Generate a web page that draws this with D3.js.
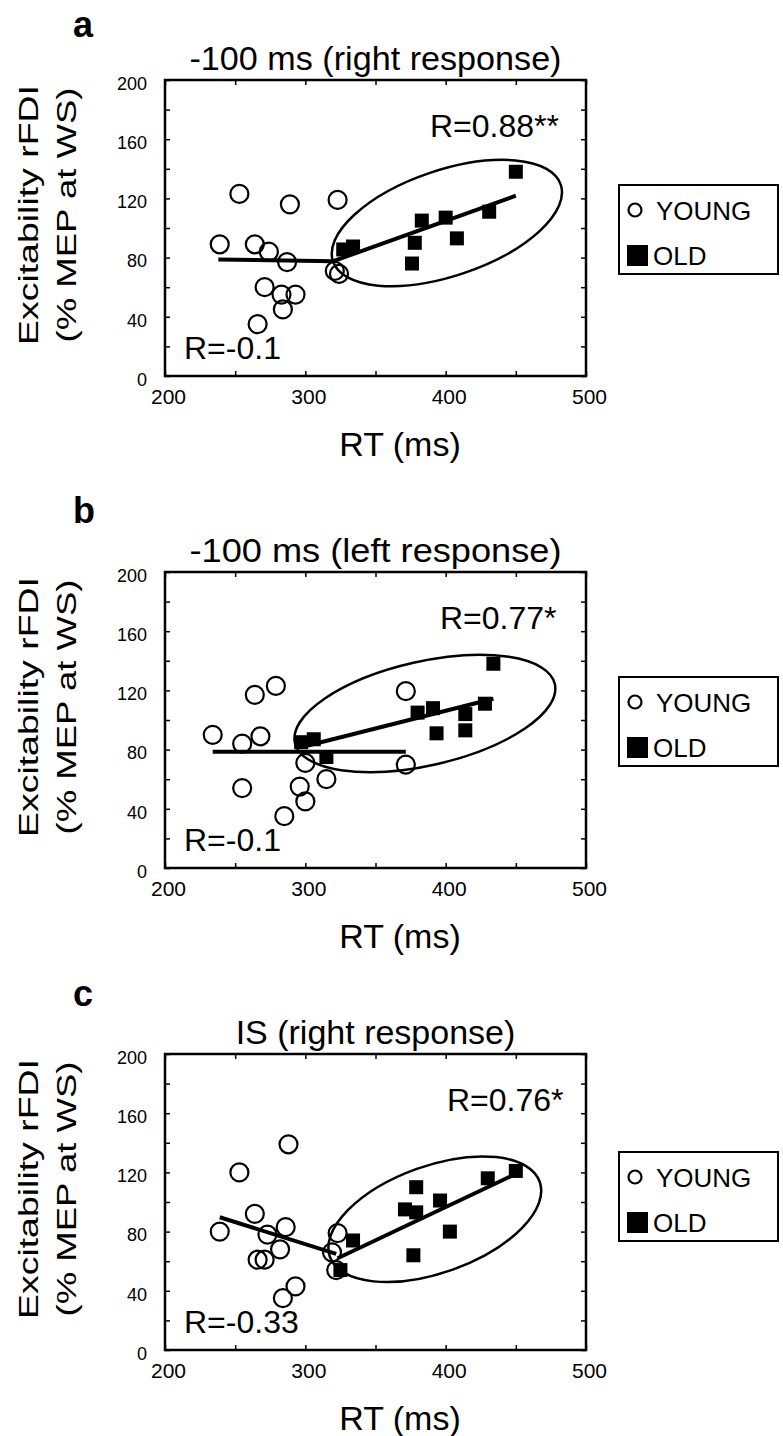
<!DOCTYPE html>
<html><head><meta charset="utf-8">
<script src="https://cdn.jsdelivr.net/npm/d3@7"></script>
<style>
body{margin:0;background:#fff}
svg{display:block}
text{font-family:"Liberation Sans",Arial,Helvetica,sans-serif;fill:#000}
</style>
</head><body>
<svg id="chart" width="783" height="1436"></svg>
<script>
// ---------- data ----------
const panelLetters = ["a", "b", "c"];
const panelTitles = ["-100 ms (right response)", "-100 ms (left response)", "IS (right response)"];
const xTickValues = [200, 250, 300, 350, 400, 450, 500];
const xTickLabels = [200, 300, 400, 500];
const yTickValues = [0, 20, 40, 60, 80, 100, 120, 140, 160, 180, 200];
const yTickLabels = [0, 40, 80, 120, 160, 200];
const xLabel = "RT (ms)";
const yLabelLine1 = "Excitability rFDI";
const yLabelLine2 = "(% MEP at WS)";
const legendLabels = ["YOUNG", "OLD"];
const rYoungLabels = ["R=-0.1", "R=-0.1", "R=-0.33"];
const rOldLabels = ["R=0.88**", "R=0.77*", "R=0.76*"];

// [RT (ms), excitability (% MEP at WS)]
const youngA = [[253,123],[289,116],[323,119],[239,89],[264,89],[274,84],[287,77],[271,60],[283,55],[293,55],[284,45],[266,35],[321,71],[324,69]];
const oldA = [[327,85.5],[334,87.5],[383,105],[400,107],[378,90],[408,93],[376,76],[431,111],[450,138]];
const fitYoungA = [[238,78.8],[320,77.6]];
const fitOldA = [[320,77.6],[450,121.8]];
const ellipseA = [[319.7,77.4],[482,129.3]];

const youngB = [[234,90],[255,84],[268,89],[264,117],[279,123],[255,54],[300,71],[296,55],[300,45],[315,60],[285,35],[371.6,119.5],[371.6,69.8]];
const oldB = [[297,85],[306,87],[315,75],[380,105],[391,108],[393.5,91],[414,104],[414,93],[428,111],[434,138]];
const fitYoungB = [[234,78.6],[371.6,78.6]];
const fitOldB = [[297,81.6],[434,114.4]];
const ellipseB = [[292.6,84.5],[477.8,124.3]];

const youngC = [[253,120],[288,139],[264,92],[239,80],[273,78],[286,83],[282,68],[266,61],[271,61],[293,43],[284,35],[319,66],[323,79],[322,54]];
const oldC = [[334,74],[325,54],[379,110],[396,101],[371,95],[379,93],[403,80],[377,64],[430,116],[450,121]];
const fitYoungC = [[239,89.7],[322,65]];
const fitOldC = [[323,62],[450,119]];
const ellipseC = [[317.5,63],[467,113.7]];

const ellipseMinorRatio = [0.44, 0.39, 0.48];

const panels = [
  {young: youngA, old: oldA, fitY: fitYoungA, fitO: fitOldA, ell: ellipseA},
  {young: youngB, old: oldB, fitY: fitYoungB, fitO: fitOldB, ell: ellipseB},
  {young: youngC, old: oldC, fitY: fitYoungC, fitO: fitOldC, ell: ellipseC}
];

// ---------- layout ----------
const plotLeft = 165, plotRight = 586, plotH = 296;
const plotTops = [80, 572, 1054];
const letterBaselines = [37, 523, 1006];
const legendTops = [185, 677, 1152];

const svg = d3.select("#chart");

panels.forEach((P, i) => {
  const top = plotTops[i], bottom = top + plotH;
  const x = d3.scaleLinear().domain([200, 500]).range([plotLeft, plotRight]);
  const y = d3.scaleLinear().domain([0, 200]).range([bottom, top]);
  const g = svg.append("g");

  // panel letter
  g.append("text").attr("x", 73).attr("y", letterBaselines[i])
    .attr("font-size", 36).attr("font-weight", "bold").text(panelLetters[i]);

  // title
  g.append("text").attr("x", (plotLeft + plotRight) / 2).attr("y", top - 10)
    .attr("text-anchor", "middle").attr("font-size", 34)
    .attr("textLength", i === 2 ? null : 372).attr("lengthAdjust", "spacingAndGlyphs")
    .text(panelTitles[i]);

  // axes (inward ticks on all four sides)
  const fmtX = d => xTickLabels.includes(d) ? d : "";
  const fmtY = d => yTickLabels.includes(d) ? d : "";
  const axB = g.append("g").attr("transform", `translate(0,${bottom})`)
    .call(d3.axisBottom(x).tickValues(xTickValues).tickSize(-5).tickPadding(13).tickFormat(fmtX));
  axB.selectAll("text").attr("font-size", 21).attr("dx", 3)
    .style("font-family", '"Liberation Sans",Arial,sans-serif');
  const axT = g.append("g").attr("transform", `translate(0,${top})`)
    .call(d3.axisTop(x).tickValues(xTickValues).tickSize(-5).tickFormat(""));
  const axL = g.append("g").attr("transform", `translate(${plotLeft},0)`)
    .call(d3.axisLeft(y).tickValues(yTickValues).tickSize(-5).tickPadding(18).tickFormat(fmtY));
  axL.selectAll("text").attr("font-size", 18).attr("dy", "0.52em")
    .style("font-family", '"Liberation Sans",Arial,sans-serif');
  const axR = g.append("g").attr("transform", `translate(${plotRight},0)`)
    .call(d3.axisRight(y).tickValues(yTickValues).tickSize(-5).tickFormat(""));
  [axB, axT, axL, axR].forEach(a => {
    a.select(".domain").remove();
    a.selectAll(".tick line").attr("stroke", "#000").attr("stroke-width", 1.5);
  });
  g.append("rect").attr("x", plotLeft).attr("y", top)
    .attr("width", plotRight - plotLeft).attr("height", plotH)
    .attr("fill", "none").attr("stroke", "#000").attr("stroke-width", 2.5);

  // y label (two lines)
  const cy = (top + bottom) / 2 - 13;
  g.append("text").attr("transform", `translate(38,${cy}) rotate(-90)`)
    .attr("text-anchor", "middle").attr("font-size", 27)
    .attr("textLength", 260).attr("lengthAdjust", "spacingAndGlyphs").text(yLabelLine1);
  g.append("text").attr("transform", `translate(76,${cy}) rotate(-90)`)
    .attr("text-anchor", "middle").attr("font-size", 27)
    .attr("textLength", 255).attr("lengthAdjust", "spacingAndGlyphs").text(yLabelLine2);

  // x label
  g.append("text").attr("x", 400).attr("y", bottom + 80)
    .attr("text-anchor", "middle").attr("font-size", 34).text(xLabel);

  // ellipse around old group
  const e = P.ell;
  const p1 = [x(e[0][0]), y(e[0][1])], p2 = [x(e[1][0]), y(e[1][1])];
  const cx = (p1[0] + p2[0]) / 2, cyE = (p1[1] + p2[1]) / 2;
  const rx = Math.hypot(p2[0] - p1[0], p2[1] - p1[1]) / 2;
  const ang = Math.atan2(p2[1] - p1[1], p2[0] - p1[0]) * 180 / Math.PI;
  g.append("ellipse").attr("cx", cx).attr("cy", cyE).attr("rx", rx).attr("ry", rx * ellipseMinorRatio[i])
    .attr("transform", `rotate(${ang},${cx},${cyE})`)
    .attr("fill", "none").attr("stroke", "#000").attr("stroke-width", 2.5);

  // regression lines
  const line = d3.line().x(d => x(d[0])).y(d => y(d[1]));
  [P.fitY, P.fitO].forEach(f => {
    g.append("path").attr("d", line(f)).attr("fill", "none")
      .attr("stroke", "#000").attr("stroke-width", 4);
  });

  // points
  g.selectAll(".young").data(P.young).enter().append("circle")
    .attr("cx", d => x(d[0])).attr("cy", d => y(d[1])).attr("r", 9)
    .attr("fill", "none").attr("stroke", "#000").attr("stroke-width", 2.2);
  const s = 14;
  g.selectAll(".old").data(P.old).enter().append("rect")
    .attr("x", d => x(d[0]) - s / 2).attr("y", d => y(d[1]) - s / 2)
    .attr("width", s).attr("height", s).attr("fill", "#000");

  // R annotations
  g.append("text").attr("x", 184).attr("y", bottom - 17).attr("font-size", 32).text(rYoungLabels[i]);
  g.append("text").attr("x", [430, 440, 447][i]).attr("y", top + 57).attr("font-size", 32).text(rOldLabels[i]);

  // legend
  const lt = legendTops[i];
  g.append("rect").attr("x", 619).attr("y", lt).attr("width", 159).attr("height", 89)
    .attr("fill", "none").attr("stroke", "#000").attr("stroke-width", 2);
  g.append("circle").attr("cx", 635).attr("cy", lt + 25).attr("r", 6.5)
    .attr("fill", "none").attr("stroke", "#000").attr("stroke-width", 2.2);
  g.append("text").attr("x", 656).attr("y", lt + 35).attr("font-size", 26).text(legendLabels[0]);
  g.append("rect").attr("x", 627).attr("y", lt + 60).attr("width", 21).attr("height", 21).attr("fill", "#000");
  g.append("text").attr("x", 653).attr("y", lt + 80).attr("font-size", 26).text(legendLabels[1]);
});
</script>
</body></html>
